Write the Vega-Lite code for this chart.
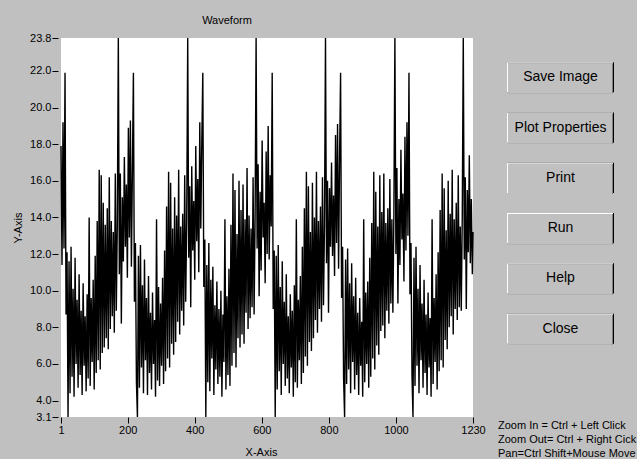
{
  "$schema": "https://vega.github.io/schema/vega-lite/v6.json",
  "background": "#c0c0c0",
  "padding": {"left": 12, "top": 15, "right": 0, "bottom": 0},
  "config": {
    "font": "Liberation Sans",
    "view": {"stroke": null},
    "concat": {"spacing": 12},
    "title": {"fontWeight": "normal", "fontSize": 11, "color": "black"}
  },
  "datasets": {
    "wave": [
      {"x":1,"y":17.9},{"x":4,"y":11.4},{"x":7,"y":19.2},{"x":10,"y":12.3},{"x":13,"y":21.9},{"x":16,"y":8.7},{"x":19,"y":12.1},{"x":22,"y":3.1},{"x":25,"y":11.6},{"x":28,"y":4.4},{"x":31,"y":12.4},{"x":34,"y":5.3},{"x":37,"y":10.1},{"x":40,"y":4.2},{"x":43,"y":11.8},{"x":46,"y":6.0},{"x":49,"y":9.5},{"x":52,"y":4.7},{"x":55,"y":10.9},{"x":58,"y":5.4},{"x":61,"y":8.9},{"x":64,"y":4.3},{"x":67,"y":10.4},{"x":70,"y":5.9},{"x":73,"y":8.6},{"x":76,"y":4.5},{"x":79,"y":9.8},{"x":82,"y":5.2},{"x":85,"y":14.0},{"x":88,"y":4.8},{"x":91,"y":9.6},{"x":94,"y":6.1},{"x":97,"y":10.6},{"x":100,"y":4.6},{"x":103,"y":11.9},{"x":106,"y":5.5},{"x":109,"y":13.8},{"x":112,"y":6.2},{"x":115,"y":16.6},{"x":118,"y":5.7},{"x":121,"y":16.3},{"x":124,"y":6.6},{"x":127,"y":14.8},{"x":130,"y":6.9},{"x":133,"y":13.6},{"x":136,"y":7.4},{"x":139,"y":14.5},{"x":142,"y":6.8},{"x":145,"y":16.2},{"x":148,"y":7.9},{"x":151,"y":13.8},{"x":154,"y":8.6},{"x":157,"y":13.2},{"x":160,"y":7.7},{"x":163,"y":16.4},{"x":166,"y":8.9},{"x":169,"y":13.7},
      {"x":172,"y":23.8},{"x":175,"y":10.9},{"x":178,"y":16.4},{"x":181,"y":8.2},{"x":184,"y":15.1},{"x":187,"y":11.6},{"x":190,"y":17.3},{"x":193,"y":12.4},{"x":196,"y":15.8},{"x":199,"y":10.7},{"x":202,"y":18.9},{"x":205,"y":12.9},{"x":208,"y":19.3},{"x":211,"y":11.3},{"x":214,"y":16.6},{"x":217,"y":21.9},{"x":220,"y":9.4},{"x":223,"y":12.6},{"x":226,"y":5.0},{"x":229,"y":3.1},{"x":232,"y":11.9},{"x":235,"y":4.7},{"x":238,"y":12.5},{"x":241,"y":5.8},{"x":244,"y":10.3},{"x":247,"y":4.4},{"x":250,"y":11.7},{"x":253,"y":6.2},{"x":256,"y":9.6},{"x":259,"y":4.3},{"x":262,"y":10.8},{"x":265,"y":5.5},{"x":268,"y":8.8},{"x":271,"y":4.6},{"x":274,"y":9.9},{"x":277,"y":6.0},{"x":280,"y":8.4},{"x":283,"y":4.2},{"x":286,"y":13.9},{"x":289,"y":5.1},{"x":292,"y":10.2},{"x":295,"y":4.8},{"x":298,"y":9.3},{"x":301,"y":5.9},{"x":304,"y":10.7},{"x":307,"y":4.9},{"x":310,"y":12.2},{"x":313,"y":5.6},{"x":316,"y":14.6},{"x":319,"y":6.3},{"x":322,"y":16.5},{"x":325,"y":5.8},{"x":328,"y":15.9},{"x":331,"y":7.1},{"x":334,"y":13.4},{"x":337,"y":6.5},{"x":340,"y":15.1},{"x":343,"y":7.2},{"x":346,"y":14.1},{"x":349,"y":8.3},{"x":352,"y":16.6},{"x":355,"y":7.6},{"x":358,"y":13.5},{"x":361,"y":8.9},{"x":364,"y":14.2},{"x":367,"y":8.1},{"x":370,"y":16.3},{"x":373,"y":9.4},{"x":376,"y":13.8},
      {"x":379,"y":23.8},{"x":382,"y":11.8},{"x":385,"y":15.7},{"x":388,"y":9.1},{"x":391,"y":16.8},{"x":394,"y":12.2},{"x":397,"y":14.9},{"x":400,"y":10.6},{"x":403,"y":17.9},{"x":406,"y":12.7},{"x":409,"y":16.1},{"x":412,"y":11.0},{"x":415,"y":19.2},{"x":418,"y":13.4},{"x":421,"y":18.1},{"x":424,"y":21.9},{"x":427,"y":10.2},{"x":430,"y":12.8},{"x":433,"y":3.1},{"x":436,"y":11.4},{"x":439,"y":5.0},{"x":442,"y":12.6},{"x":445,"y":4.5},{"x":448,"y":10.6},{"x":451,"y":6.3},{"x":454,"y":11.3},{"x":457,"y":4.3},{"x":460,"y":9.2},{"x":463,"y":5.7},{"x":466,"y":10.5},{"x":469,"y":4.9},{"x":472,"y":9.0},{"x":475,"y":5.3},{"x":478,"y":10.0},{"x":481,"y":4.2},{"x":484,"y":8.7},{"x":487,"y":6.1},{"x":490,"y":13.9},{"x":493,"y":4.6},{"x":496,"y":9.7},{"x":499,"y":5.4},{"x":502,"y":11.2},{"x":505,"y":4.8},{"x":508,"y":13.6},{"x":511,"y":5.9},{"x":514,"y":16.4},{"x":517,"y":6.6},{"x":520,"y":15.5},{"x":523,"y":5.8},{"x":526,"y":13.1},{"x":529,"y":7.4},{"x":532,"y":16.0},{"x":535,"y":6.9},{"x":538,"y":14.4},{"x":541,"y":7.6},{"x":544,"y":15.8},{"x":547,"y":7.1},{"x":550,"y":13.9},{"x":553,"y":8.8},{"x":556,"y":16.7},{"x":559,"y":7.9},{"x":562,"y":14.1},{"x":565,"y":8.5},{"x":568,"y":13.4},{"x":571,"y":9.1},{"x":574,"y":16.2},{"x":577,"y":8.7},{"x":580,"y":14.0},
      {"x":583,"y":23.8},{"x":586,"y":12.3},{"x":589,"y":16.9},{"x":592,"y":9.7},{"x":595,"y":15.4},{"x":598,"y":11.1},{"x":601,"y":18.2},{"x":604,"y":12.9},{"x":607,"y":14.8},{"x":610,"y":10.4},{"x":613,"y":17.6},{"x":616,"y":12.0},{"x":619,"y":19.0},{"x":622,"y":11.7},{"x":625,"y":16.3},{"x":628,"y":13.5},{"x":631,"y":21.9},{"x":634,"y":9.0},{"x":637,"y":12.2},{"x":640,"y":3.1},{"x":643,"y":11.9},{"x":646,"y":4.6},{"x":649,"y":12.5},{"x":652,"y":5.6},{"x":655,"y":10.2},{"x":658,"y":4.3},{"x":661,"y":11.6},{"x":664,"y":6.0},{"x":667,"y":9.4},{"x":670,"y":4.8},{"x":673,"y":10.9},{"x":676,"y":5.2},{"x":679,"y":8.6},{"x":682,"y":4.4},{"x":685,"y":9.8},{"x":688,"y":5.8},{"x":691,"y":8.9},{"x":694,"y":4.2},{"x":697,"y":10.3},{"x":700,"y":5.0},{"x":703,"y":13.9},{"x":706,"y":4.7},{"x":709,"y":9.5},{"x":712,"y":6.2},{"x":715,"y":10.8},{"x":718,"y":4.9},{"x":721,"y":12.4},{"x":724,"y":5.5},{"x":727,"y":14.5},{"x":730,"y":6.4},{"x":733,"y":16.5},{"x":736,"y":5.9},{"x":739,"y":15.7},{"x":742,"y":7.2},{"x":745,"y":13.2},{"x":748,"y":6.7},{"x":751,"y":15.9},{"x":754,"y":7.4},{"x":757,"y":14.0},{"x":760,"y":8.4},{"x":763,"y":16.5},{"x":766,"y":7.7},{"x":769,"y":13.8},{"x":772,"y":9.0},{"x":775,"y":14.6},{"x":778,"y":8.3},{"x":781,"y":16.2},{"x":784,"y":9.2},{"x":787,"y":13.6},
      {"x":790,"y":23.8},{"x":793,"y":11.5},{"x":796,"y":16.0},{"x":799,"y":8.8},{"x":802,"y":15.6},{"x":805,"y":12.4},{"x":808,"y":17.0},{"x":811,"y":11.9},{"x":814,"y":15.2},{"x":817,"y":10.8},{"x":820,"y":18.5},{"x":823,"y":12.6},{"x":826,"y":19.1},{"x":829,"y":11.2},{"x":832,"y":17.2},{"x":835,"y":21.9},{"x":838,"y":9.6},{"x":841,"y":12.4},{"x":844,"y":5.2},{"x":847,"y":3.1},{"x":850,"y":11.7},{"x":853,"y":4.9},{"x":856,"y":12.3},{"x":859,"y":5.7},{"x":862,"y":10.4},{"x":865,"y":4.4},{"x":868,"y":11.5},{"x":871,"y":6.1},{"x":874,"y":9.7},{"x":877,"y":4.6},{"x":880,"y":10.7},{"x":883,"y":5.4},{"x":886,"y":8.8},{"x":889,"y":4.3},{"x":892,"y":9.6},{"x":895,"y":5.9},{"x":898,"y":8.3},{"x":901,"y":4.2},{"x":904,"y":13.9},{"x":907,"y":5.0},{"x":910,"y":9.9},{"x":913,"y":6.0},{"x":916,"y":10.5},{"x":919,"y":4.7},{"x":922,"y":11.8},{"x":925,"y":5.3},{"x":928,"y":13.7},{"x":931,"y":6.3},{"x":934,"y":16.5},{"x":937,"y":5.7},{"x":940,"y":15.4},{"x":943,"y":7.0},{"x":946,"y":13.5},{"x":949,"y":6.5},{"x":952,"y":16.3},{"x":955,"y":7.8},{"x":958,"y":14.3},{"x":961,"y":8.1},{"x":964,"y":16.4},{"x":967,"y":7.4},{"x":970,"y":13.7},{"x":973,"y":8.9},{"x":976,"y":14.5},{"x":979,"y":8.2},{"x":982,"y":16.1},{"x":985,"y":9.3},{"x":988,"y":13.9},{"x":991,"y":8.8},{"x":994,"y":14.2},
      {"x":997,"y":23.8},{"x":1000,"y":12.0},{"x":1003,"y":16.7},{"x":1006,"y":9.3},{"x":1009,"y":15.0},{"x":1012,"y":11.4},{"x":1015,"y":17.7},{"x":1018,"y":12.8},{"x":1021,"y":15.3},{"x":1024,"y":10.5},{"x":1027,"y":18.4},{"x":1030,"y":12.2},{"x":1033,"y":19.2},{"x":1036,"y":13.0},{"x":1039,"y":21.9},{"x":1042,"y":9.8},{"x":1045,"y":12.6},{"x":1048,"y":5.4},{"x":1051,"y":3.1},{"x":1054,"y":11.8},{"x":1057,"y":4.8},{"x":1060,"y":12.4},{"x":1063,"y":5.9},{"x":1066,"y":10.1},{"x":1069,"y":4.4},{"x":1072,"y":11.4},{"x":1075,"y":6.2},{"x":1078,"y":9.3},{"x":1081,"y":4.7},{"x":1084,"y":10.6},{"x":1087,"y":5.5},{"x":1090,"y":8.7},{"x":1093,"y":4.3},{"x":1096,"y":9.9},{"x":1099,"y":5.8},{"x":1102,"y":8.5},{"x":1105,"y":4.2},{"x":1108,"y":13.9},{"x":1111,"y":4.9},{"x":1114,"y":9.6},{"x":1117,"y":6.1},{"x":1120,"y":10.9},{"x":1123,"y":4.6},{"x":1126,"y":12.1},{"x":1129,"y":5.6},{"x":1132,"y":14.4},{"x":1135,"y":6.2},{"x":1138,"y":16.4},{"x":1141,"y":5.8},{"x":1144,"y":15.6},{"x":1147,"y":7.3},{"x":1150,"y":13.3},{"x":1153,"y":6.8},{"x":1156,"y":16.0},{"x":1159,"y":8.0},{"x":1162,"y":14.2},{"x":1165,"y":8.6},{"x":1168,"y":16.6},{"x":1171,"y":7.6},{"x":1174,"y":13.9},{"x":1177,"y":9.0},{"x":1180,"y":14.8},{"x":1183,"y":8.4},{"x":1186,"y":16.3},{"x":1189,"y":9.1},{"x":1192,"y":13.5},{"x":1195,"y":8.9},{"x":1198,"y":14.1},
      {"x":1201,"y":23.8},{"x":1204,"y":11.7},{"x":1207,"y":16.2},{"x":1210,"y":9.0},{"x":1213,"y":15.5},{"x":1216,"y":12.1},{"x":1219,"y":17.4},{"x":1222,"y":11.5},{"x":1225,"y":15.0},{"x":1228,"y":10.9},{"x":1230,"y":13.2}
    ],
    "buttons": [
      {"label":"Save Image"},{"label":"Plot Properties"},{"label":"Print"},{"label":"Run"},{"label":"Help"},{"label":"Close"}
    ]
  },
  "hconcat": [
    {
      "width": 412,
      "height": 379,
      "title": {"text": "Waveform", "anchor": "middle", "frame": "group", "dx": -40, "offset": 6},
      "view": {"fill": "white", "stroke": null},
      "data": {"name": "wave"},
      "mark": {"type": "line", "color": "black", "strokeWidth": 1.4},
      "encoding": {
        "x": {
          "field": "x", "type": "quantitative",
          "scale": {"domain": [1, 1230], "nice": false, "zero": false},
          "axis": {"title": "X-Axis", "values": [1, 200, 400, 600, 800, 1000, 1230], "format": "d", "grid": false, "domain": false,
                   "tickColor": "black", "tickSize": 6, "labelColor": "black", "labelFontSize": 11, "labelPadding": 1, "labelFlush": false,
                   "titleFontSize": 11, "titleFontWeight": "normal", "titleColor": "black", "titlePadding": 11, "titleX": 200}
        },
        "y": {
          "field": "y", "type": "quantitative",
          "scale": {"domain": [3.1, 23.8], "nice": false, "zero": false},
          "axis": {"title": "Y-Axis", "values": [3.1, 4, 6, 8, 10, 12, 14, 16, 18, 20, 22, 23.8], "format": ".1f", "grid": false, "domain": false,
                   "offset": 3, "tickColor": "black", "tickSize": 6, "labelColor": "black", "labelFontSize": 11, "labelPadding": 1, "labelFlush": false,
                   "titleFontSize": 11, "titleFontWeight": "normal", "titleColor": "black", "titlePadding": 6}
        }
      }
    },
    {
      "width": 107,
      "height": 330,
      "data": {"name": "buttons"},
      "title": {"text": ["Zoom In = Ctrl + Left Click", "Zoom Out= Ctrl + Right Cick", "Pan=Ctrl Shift+Mouse Move"], "orient": "bottom", "anchor": "start", "frame": "group", "dx": -9, "offset": 52, "lineHeight": 14},
      "encoding": {
        "y": {"field": "label", "type": "nominal", "sort": null, "axis": null, "scale": {"paddingInner": 0.4, "paddingOuter": 0.48}},
        "x": {"datum": 0, "type": "quantitative", "scale": {"domain": [0, 1], "nice": false, "zero": false}, "axis": null},
        "x2": {"datum": 1}
      },
      "layer": [
        {"mark": {"type": "rect", "color": "black"}},
        {"mark": {"type": "rect", "color": "white", "x2Offset": -1, "y2Offset": -1}},
        {"mark": {"type": "rect", "color": "#808080", "xOffset": 1, "yOffset": 1, "x2Offset": -1, "y2Offset": -1}},
        {"mark": {"type": "rect", "color": "#c0c0c0", "xOffset": 1, "yOffset": 1, "x2Offset": -2, "y2Offset": -2}},
        {"mark": {"type": "text", "fontSize": 14, "color": "black"}, "encoding": {"text": {"field": "label"}, "x": {"datum": 0.5, "type": "quantitative"}, "x2": null}}
      ]
    }
  ]
}
